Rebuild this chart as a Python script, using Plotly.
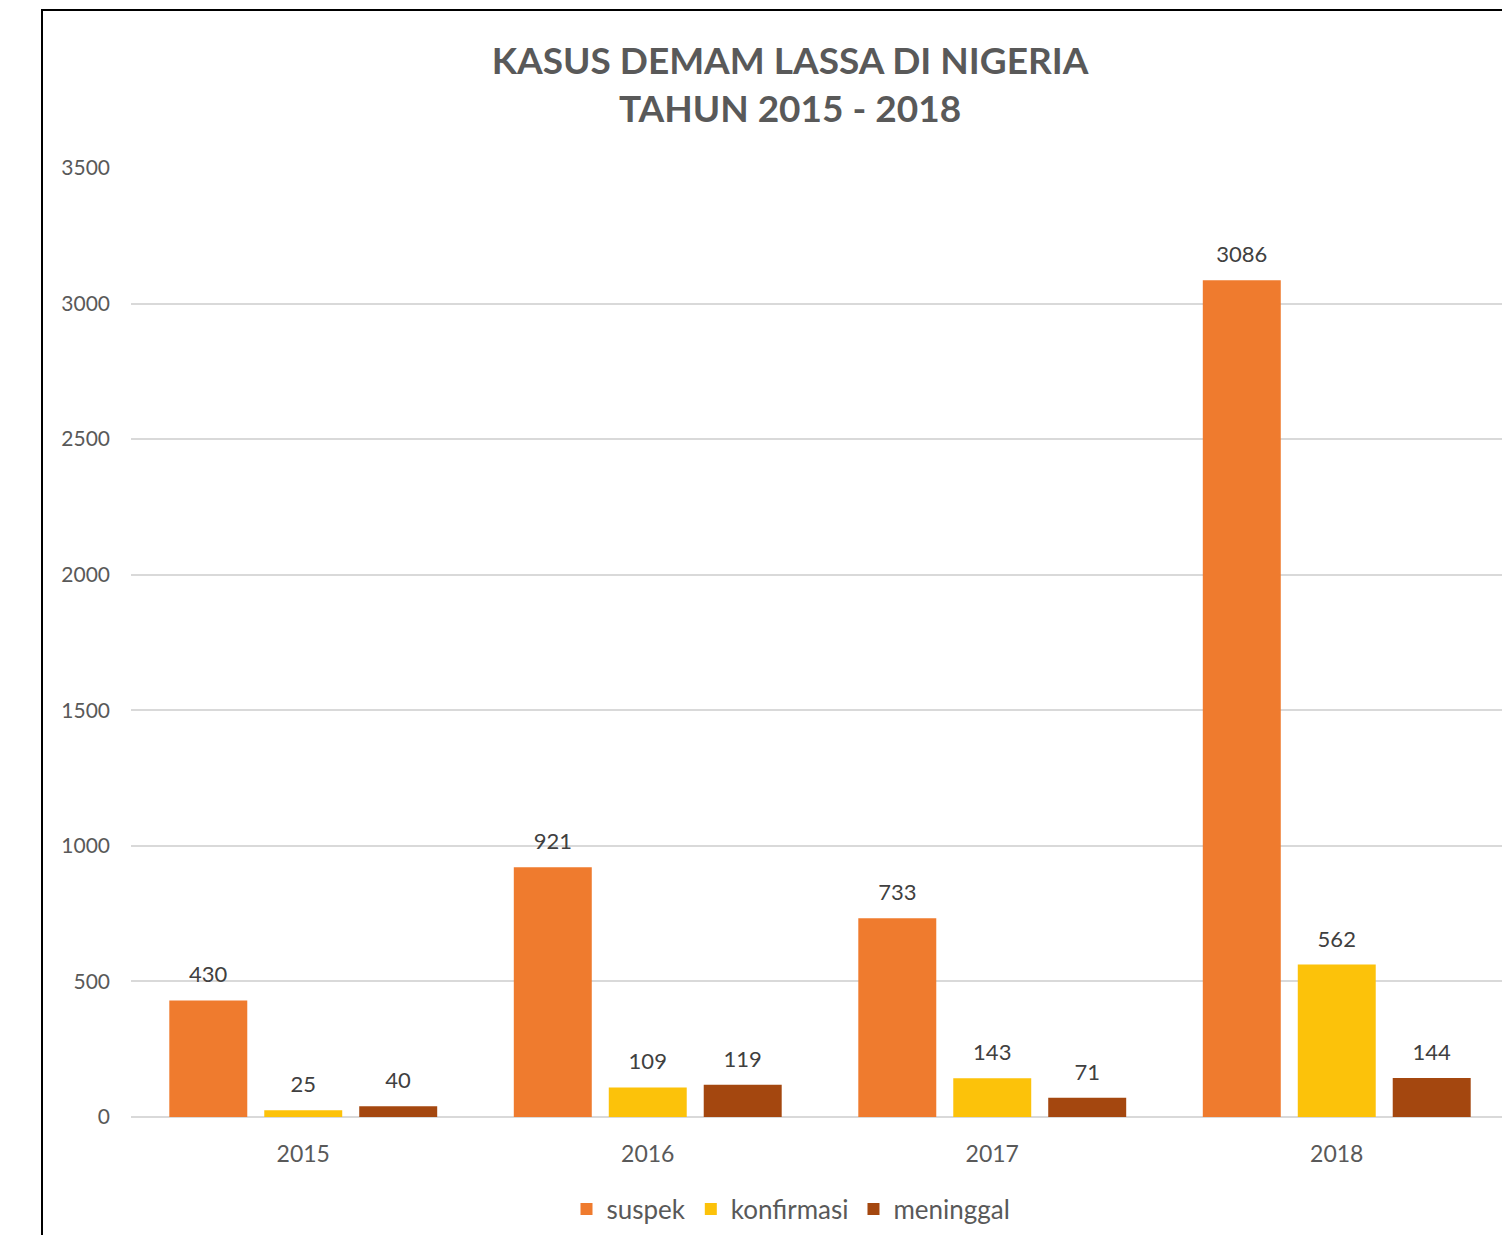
import plotly.graph_objects as go

years = ["2015", "2016", "2017", "2018"]
series_names = ["suspek", "konfirmasi", "meninggal"]
suspek = [430, 921, 733, 3086]
konfirmasi = [25, 109, 143, 562]
meninggal = [40, 119, 71, 144]
y_ticks = [0, 500, 1000, 1500, 2000, 2500, 3000, 3500]

colors = ["#EF7B2E", "#FCC20A", "#A4470F"]
label_pad = 37  # data units of blank space between bar top and value label

OFF = 8  # page body margin
W, H = 1510 - OFF, 1235 - OFF
ml, mr = 131 - OFF, 1
mt, mb = 168 - OFF, 1235 - 1117
pw, ph = W - ml - mr, H - mt - mb

fig = go.Figure()
for i, (name, vals) in enumerate(zip(series_names, [suspek, konfirmasi, meninggal])):
    fig.add_trace(go.Bar(
        x=years, y=vals, name=name, offsetgroup=str(i),
        marker=dict(color=colors[i], line=dict(width=0)),
        hoverinfo="skip",
    ))
    # transparent spacer bar carrying the value label
    fig.add_trace(go.Bar(
        x=years, y=[label_pad] * len(vals), base=vals, offsetgroup=str(i),
        marker=dict(color="rgba(0,0,0,0)", line=dict(width=0)),
        text=[str(v) for v in vals], textposition="outside",
        textfont=dict(family="Lato", size=22, color="#404040"),
        showlegend=False, hoverinfo="skip", cliponaxis=False,
    ))

fig.update_layout(
    width=W, height=H,
    margin=dict(l=ml, r=mr, t=mt, b=mb),
    paper_bgcolor="white", plot_bgcolor="white",
    barmode="group", bargap=0.173, bargroupgap=0.179,
    font=dict(family="Lato", color="#595959"),
    title=dict(
        text="KASUS DEMAM LASSA DI NIGERIA<br>TAHUN 2015 - 2018",
        x=(790 - 131) / pw, xref="paper", xanchor="center",
        y=1 - (84 - OFF - 10) / H, yref="container", yanchor="middle",
        font=dict(family="Lato", size=37, color="#595959", weight="bold"),
    ),
    xaxis=dict(
        showgrid=False, showline=False, zeroline=False,
        tickfont=dict(family="Lato", size=23, color="#595959"),
        ticklabelstandoff=21,
    ),
    yaxis=dict(
        range=[0, 3500], tickvals=y_ticks,
        showgrid=True, gridcolor="#D9D9D9", gridwidth=2,
        zeroline=True, zerolinecolor="#D9D9D9", zerolinewidth=2,
        showline=False,
        tickfont=dict(family="Lato", size=21, color="#595959"),
        ticklabelstandoff=20,
    ),
    legend=dict(
        orientation="h", x=(791 - 131) / pw, xanchor="center",
        y=(1117 - 1209) / ph, yanchor="middle",
        font=dict(family="Lato", size=26, color="#595959"),
        itemclick=False, itemdoubleclick=False,
    ),
    shapes=[dict(
        type="rect", xref="paper", yref="paper",
        x0=(42 - 131) / pw, x1=1.2, y0=-0.5, y1=(1117 - 10) / ph,
        line=dict(color="black", width=2), fillcolor="rgba(0,0,0,0)",
        layer="above",
    )],
)

fig.write_html("out.html")
